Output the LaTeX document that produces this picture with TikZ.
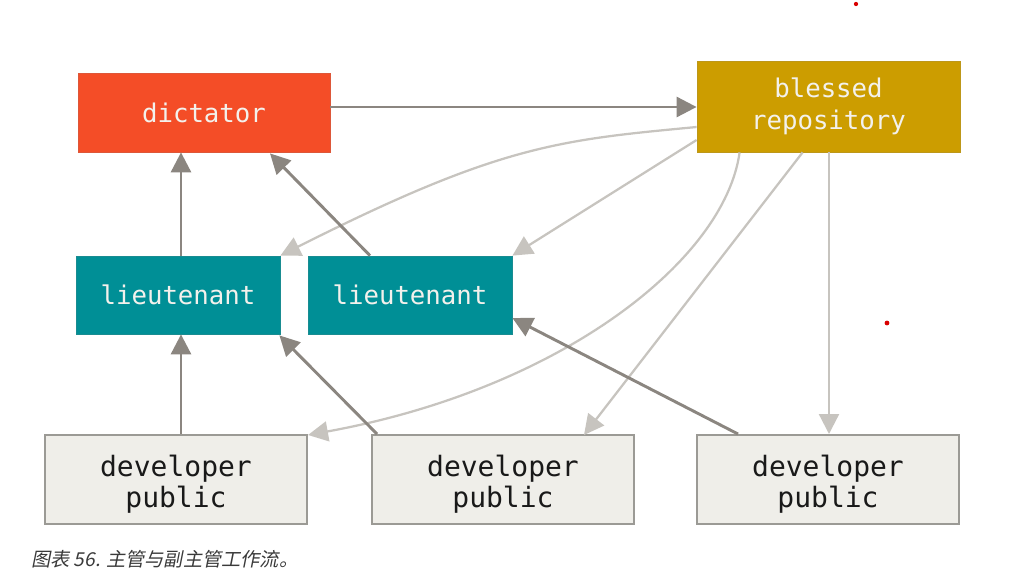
\documentclass[tikz,border=0pt]{standalone}
\usepackage{fontspec}
\newfontfamily\monof{DejaVu Sans Mono}
\newfontfamily\cjkf[FakeSlant=0.2]{Noto Sans CJK SC}
\usetikzlibrary{arrows.meta,calc}
\definecolor{dictc}{HTML}{F44D27}
\definecolor{blessc}{HTML}{CC9D00}
\definecolor{ltc}{HTML}{008F96}
\definecolor{devc}{HTML}{EFEEE9}
\definecolor{devb}{HTML}{9B9A95}
\definecolor{dkc}{HTML}{8B8680}
\definecolor{lgc}{HTML}{C7C4BF}
\definecolor{wtext}{HTML}{F3F1EC}
\definecolor{captc}{HTML}{3A3A3A}
\newcommand{\devtop}{\rule{0pt}{23.5pt}}
\tikzset{
  boxbase/.style={rectangle, inner sep=0pt, align=center, font=\monof\fontsize{19.3}{24}\selectfont},
  dictbox/.style={boxbase, fill=dictc, draw=dictc!80!gray, line width=0.6pt, text=wtext, minimum width=189pt, minimum height=59.25pt},
  blessbox/.style={boxbase, fill=blessc, draw=blessc!80!gray, line width=0.6pt, text=wtext, minimum width=197.25pt, minimum height=68.25pt},
  ltbox/.style={boxbase, fill=ltc, draw=ltc!80!gray, line width=0.6pt, text=wtext, minimum width=153pt, minimum height=58.5pt},
  devbox/.style={boxbase, fill=devc, draw=devb, line width=1.5pt, text=black!90, minimum width=196.5pt, minimum height=66.75pt, font=\monof\fontsize{21}{23.3}\selectfont},
  dk/.style={draw=dkc, line width=2.2pt, -{Triangle[length=15pt,width=15pt]}},
  lg/.style={draw=lgc, line width=1.7pt, -{Triangle[length=15pt,width=15pt]}},
}
\begin{document}
\begin{tikzpicture}[x=0.75pt,y=-0.75pt]
\useasboundingbox (0,0) rectangle (1022,582);
\node[dictbox] (dict) at (204,112.5) {dictator};
\node[blessbox] (bless) at (828.5,106.5) {blessed\\repository};
\node[ltbox] (lt1) at (178,295) {lieutenant};
\node[ltbox] (lt2) at (410,295) {lieutenant};
\node[devbox] (dev1) at (176,479.5) {\devtop developer\\public};
\node[devbox] (dev2) at (503,479.5) {\devtop developer\\public};
\node[devbox] (dev3) at (828,479.5) {\devtop developer\\public};
% light arrows
\draw[lg] ($(bless.west)+(0,20.5)$) .. controls +(-137,13) and +(220,-111) .. (lt1.north east);
\draw[lg] ($(bless.west)+(0,33.5)$) -- (lt2.north east);
\draw[lg] ($(bless.south west)+(43,0)$) .. controls +(-15,108) and +(253,-46) .. ($(dev1.north east)+(0,1)$);
\draw[lg] ($(bless.south west)+(106,0)$) -- ($(dev2.north east)+(-51,1)$);
\draw[lg] ($(bless.south)+(0.5,0)$) -- ($(dev3.north)+(1,0)$);
% dark arrows
\draw[dk] ($(dict.east)+(0,-5.5)$) -- ($(bless.west)+(0,0.5)$);
\draw[dk] ($(lt1.north)+(3,0)$) -- ($(dict.south)+(-23,0)$);
\draw[dk] ($(lt2.north)+(-40,0)$) -- ($(dict.south)+(66,1)$);
\draw[dk] ($(dev1.north)+(5,0)$) -- ($(lt1.south)+(3,0)$);
\draw[dk] ($(dev2.north west)+(6,0)$) -- ($(lt1.south east)+(-1,1)$);
\draw[dk] ($(dev3.north west)+(42,0)$) -- ($(lt2.east)+(0,23)$);
% dots
\fill[red!85!black] (856,4) coordinate (d1) circle[radius=1.6pt];
\fill[red!85!black] (887,323) coordinate (d2) circle[radius=1.8pt];
% caption
\node[anchor=base west, inner sep=0pt, text=captc, font=\cjkf\fontsize{14.4}{16}\selectfont] (cap) at (31,566) {图表 56. 主管与副主管工作流。};
\end{tikzpicture}
\end{document}
